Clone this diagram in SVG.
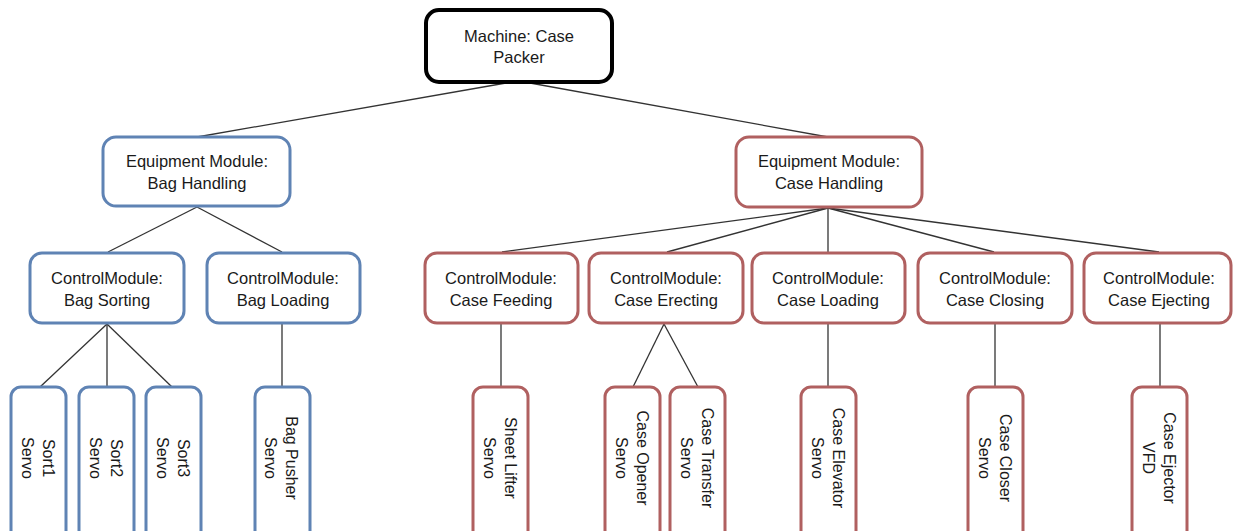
<svg xmlns="http://www.w3.org/2000/svg" width="1233" height="531" viewBox="0 0 1233 531">
<style>
.b{fill:#fff;stroke-width:3}
.blue{stroke:#5f83b4}
.red{stroke:#b06060}
.blk{stroke:#000;stroke-width:4}
text{font-family:"Liberation Sans",Arial,sans-serif;font-size:16.5px;fill:#1a1a1a;text-anchor:middle}
.v text{font-size:16px}
#connectors line{stroke:#333;stroke-width:1.3}
</style>
<rect width="1233" height="531" fill="#fff"/>
<g id="connectors">
<line x1="506" y1="83" x2="197" y2="137"/>
<line x1="530" y1="83" x2="828" y2="137"/>
<line x1="197" y1="207" x2="108" y2="252"/>
<line x1="197" y1="207" x2="282" y2="252"/>
<line x1="828" y1="208" x2="502" y2="252"/>
<line x1="828" y1="208" x2="667" y2="252"/>
<line x1="828" y1="208" x2="828" y2="252"/>
<line x1="828" y1="208" x2="994" y2="252"/>
<line x1="828" y1="208" x2="1159" y2="252"/>
<line x1="107" y1="324" x2="40" y2="387"/>
<line x1="107" y1="324" x2="107" y2="387"/>
<line x1="107" y1="324" x2="172" y2="387"/>
<line x1="282" y1="324" x2="282" y2="387"/>
<line x1="501" y1="324" x2="501" y2="387"/>
<line x1="664" y1="324" x2="633" y2="387"/>
<line x1="664" y1="324" x2="698" y2="387"/>
<line x1="828" y1="324" x2="828" y2="387"/>
<line x1="995" y1="324" x2="995" y2="387"/>
<line x1="1160" y1="324" x2="1160" y2="387"/>
</g>
<g id="machine"><rect class="b blk" x="426" y="10" width="186" height="72" rx="13"/><text x="519" y="41.5">Machine: Case</text><text x="519" y="63">Packer</text></g>
<g id="em-bag"><rect class="b blue" x="103" y="137" width="187" height="69" rx="13"/><text x="197" y="167">Equipment Module:</text><text x="197" y="189">Bag Handling</text></g>
<g id="em-case"><rect class="b red" x="736" y="137" width="186" height="70" rx="13"/><text x="829" y="167">Equipment Module:</text><text x="829" y="189">Case Handling</text></g>
<g id="cm-bag-sorting"><rect class="b blue" x="30" y="253" width="154" height="70" rx="12"/><text x="107" y="284">ControlModule:</text><text x="107" y="306">Bag Sorting</text></g>
<g id="cm-bag-loading"><rect class="b blue" x="207" y="253" width="153" height="70" rx="12"/><text x="283" y="284">ControlModule:</text><text x="283" y="306">Bag Loading</text></g>
<g id="cm-case-feeding"><rect class="b red" x="425" y="253" width="153" height="70" rx="12"/><text x="501" y="284">ControlModule:</text><text x="501" y="306">Case Feeding</text></g>
<g id="cm-case-erecting"><rect class="b red" x="589" y="253" width="154" height="70" rx="12"/><text x="666" y="284">ControlModule:</text><text x="666" y="306">Case Erecting</text></g>
<g id="cm-case-loading"><rect class="b red" x="752" y="253" width="153" height="70" rx="12"/><text x="828" y="284">ControlModule:</text><text x="828" y="306">Case Loading</text></g>
<g id="cm-case-closing"><rect class="b red" x="918" y="253" width="154" height="70" rx="12"/><text x="995" y="284">ControlModule:</text><text x="995" y="306">Case Closing</text></g>
<g id="cm-case-ejecting"><rect class="b red" x="1084" y="253" width="147" height="70" rx="12"/><text x="1159" y="284">ControlModule:</text><text x="1159" y="306">Case Ejecting</text></g>
<g id="sort1" class="v"><rect class="b blue" x="11" y="387" width="55" height="155" rx="10"/><g transform="translate(38.5,458) rotate(90)"><text y="-4.9">Sort1</text><text y="16.1">Servo</text></g></g>
<g id="sort2" class="v"><rect class="b blue" x="79" y="387" width="55" height="155" rx="10"/><g transform="translate(106.5,458) rotate(90)"><text y="-4.9">Sort2</text><text y="16.1">Servo</text></g></g>
<g id="sort3" class="v"><rect class="b blue" x="146" y="387" width="55" height="155" rx="10"/><g transform="translate(173.5,458) rotate(90)"><text y="-4.9">Sort3</text><text y="16.1">Servo</text></g></g>
<g id="bag-pusher" class="v"><rect class="b blue" x="255" y="387" width="55" height="155" rx="10"/><g transform="translate(281.5,458) rotate(90)"><text y="-4.9">Bag Pusher</text><text y="16.1">Servo</text></g></g>
<g id="sheet-lifter" class="v"><rect class="b red" x="473" y="387" width="55" height="155" rx="10"/><g transform="translate(500.5,458) rotate(90)"><text y="-4.9">Sheet Lifter</text><text y="16.1">Servo</text></g></g>
<g id="case-opener" class="v"><rect class="b red" x="605" y="387" width="55" height="155" rx="10"/><g transform="translate(632.5,458) rotate(90)"><text y="-4.9">Case Opener</text><text y="16.1">Servo</text></g></g>
<g id="case-transfer" class="v"><rect class="b red" x="670" y="387" width="55" height="155" rx="10"/><g transform="translate(697.5,458) rotate(90)"><text y="-4.9">Case Transfer</text><text y="16.1">Servo</text></g></g>
<g id="case-elevator" class="v"><rect class="b red" x="801" y="387" width="55" height="155" rx="10"/><g transform="translate(828.5,458) rotate(90)"><text y="-4.9">Case Elevator</text><text y="16.1">Servo</text></g></g>
<g id="case-closer" class="v"><rect class="b red" x="968" y="387" width="55" height="155" rx="10"/><g transform="translate(995.5,458) rotate(90)"><text y="-4.9">Case Closer</text><text y="16.1">Servo</text></g></g>
<g id="case-ejector" class="v"><rect class="b red" x="1132" y="387" width="55" height="155" rx="10"/><g transform="translate(1159.5,458) rotate(90)"><text y="-4.9">Case Ejector</text><text y="16.1">VFD</text></g></g>
</svg>
